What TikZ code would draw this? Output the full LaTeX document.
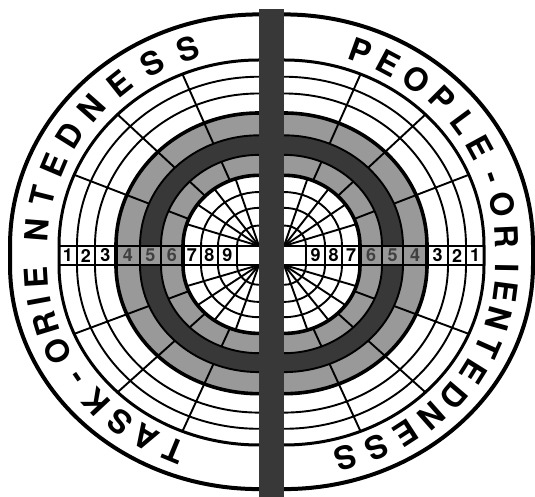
\documentclass[tikz,border=0pt]{standalone}
\usepackage{fontspec}
\setmainfont{TeX Gyre Heros}
\begin{document}
\begin{tikzpicture}[x=1pt,y=1pt,
  ringline/.style={line width=1.9pt},
  heavyline/.style={line width=3.6pt},
  bandline/.style={line width=3pt},
  outerline/.style={line width=4pt},
  lightcell/.style={fill=black!40},
  darkcell/.style={fill=black!78},
  letter/.style={font=\fontsize{32}{32}\selectfont\bfseries, inner sep=0pt, text height=23pt, text depth=0pt},
  digit/.style={font=\fontsize{18}{18}\selectfont\bfseries, inner sep=0pt},
  shadedigit/.style={digit, text=black!75}]
\useasboundingbox (0,0) rectangle (535,497);
\fill[white] (0,0) rectangle (535,497);
\coordinate (UL) at (259,251);
\coordinate (UR) at (284,251);
\coordinate (LL) at (259,232);
\coordinate (LR) at (284,232);

% four quadrants
\foreach \ap/\ys/\a in {UL/0.93/90, UR/0.93/0, LL/0.9/180, LR/0.9/270}{
  \pgfmathsetmacro\b{\a+90}
  \begin{scope}[shift={(\ap)}, yscale=\ys]
    \fill[lightcell] (\a:143) arc[start angle=\a, end angle=\b, radius=143] -- (\b:119) arc[start angle=\b, end angle=\a, radius=119] -- cycle;
    \fill[darkcell] (\a:119) arc[start angle=\a, end angle=\b, radius=119] -- (\b:98) arc[start angle=\b, end angle=\a, radius=98] -- cycle;
    \fill[lightcell] (\a:98) arc[start angle=\a, end angle=\b, radius=98] -- (\b:76) arc[start angle=\b, end angle=\a, radius=76] -- cycle;
    \foreach \r in {182,164,119,98,58,41,22}
      \draw[ringline] (\a:\r) arc[start angle=\a, end angle=\b, radius=\r];
    \foreach \r in {143,76}
      \draw[heavyline] (\a:\r) arc[start angle=\a, end angle=\b, radius=\r];
    \foreach \t in {22.5,45,67.5}{
      \draw[ringline] ({\a+\t}:119) -- ({\a+\t}:200);
      \draw[ringline] ({\a+\t}:76) -- ({\a+\t}:98);
    }
    \foreach \t in {18,36,54,72}
      \draw[ringline] (0,0) -- ({\a+\t}:76);
  \end{scope}
}

% outer boundary and text band line
\draw[outerline] (259,482.57) arc[start angle=90, end angle=180, x radius=249, y radius=231.57] -- (10,232) arc[start angle=180, end angle=270, x radius=249, y radius=224.1];
\draw[outerline] (284,482.57) arc[start angle=90, end angle=0, x radius=249, y radius=231.57] -- (533,232) arc[start angle=0, end angle=-90, x radius=249, y radius=224.1];
\draw[bandline] (259,437) arc[start angle=90, end angle=180, x radius=200, y radius=186] -- (59,232) arc[start angle=180, end angle=270, x radius=200, y radius=180];
\draw[bandline] (284,437) arc[start angle=90, end angle=0, x radius=200, y radius=186] -- (484,232) arc[start angle=0, end angle=-90, x radius=200, y radius=180];

% number strips
\fill[lightcell] (116,232) rectangle (183,251);
\fill[lightcell] (360,232) rectangle (427,251);
\draw[ringline] (59,251) -- (259,251) (59,232) -- (259,232);
\draw[ringline] (284,251) -- (484,251) (284,232) -- (484,232);
\foreach \r in {182,164,119,98,58,41,22}{
  \draw[ringline] (259-\r,232) -- (259-\r,251);
  \draw[ringline] (284+\r,232) -- (284+\r,251);
}
\foreach \r in {143,76}{
  \draw[heavyline] (259-\r,232) -- (259-\r,251);
  \draw[heavyline] (284+\r,232) -- (284+\r,251);
}

% central bar
\fill[darkcell] (259,0) rectangle (284,488);

% digits
\foreach \k/\r in {1/191,2/173,3/153.5,7/67,8/49.5,9/31.5}{
  \node[digit] (dl\k) at (259-\r,241.5) {\k};
  \node[digit] (dr\k) at (284+\r,241.5) {\k};
}
\foreach \k/\r in {4/131,5/108.5,6/87}{
  \node[shadedigit] (dl\k) at (259-\r,241.5) {\k};
  \node[shadedigit] (dr\k) at (284+\r,241.5) {\k};
}

% curved titles
\begin{scope}[shift={(LL)}, yscale=0.9]
  \foreach \ch/\t [count=\i] in {T/247.5,A/239.5,S/231.5,K/223,-/214.5,O/205.5,R/197,I/190.5,E/183.5}
    \node[letter, rotate=\t-90] (tla\i) at (\t:223) {\ch};
\end{scope}
\begin{scope}[shift={(UL)}, yscale=0.93]
  \foreach \ch/\t [count=\i] in {N/175.5,T/166,E/157,D/148,N/138.5,E/128.5,S/118.5,S/108.5}
    \node[letter, rotate=\t-90] (tlb\i) at (\t:223) {\ch};
\end{scope}
\begin{scope}[shift={(UR)}, yscale=0.93]
  \foreach \ch/\t [count=\i] in {P/70,E/62,O/53.5,P/45,L/36.5,E/28.5,-/19.5,O/11.5,R/2.5}
    \node[letter, rotate=\t-90] (tra\i) at (\t:223) {\ch};
\end{scope}
\begin{scope}[shift={(LR)}, yscale=0.9]
  \foreach \ch/\t [count=\i] in {I/-1,E/-7.5,N/-15.5,T/-24,E/-32,D/-40.5,N/-48.5,E/-57,S/-65.5,S/-74}
    \node[letter, rotate=\t-90] (trb\i) at (\t:223) {\ch};
\end{scope}
\end{tikzpicture}
\end{document}
